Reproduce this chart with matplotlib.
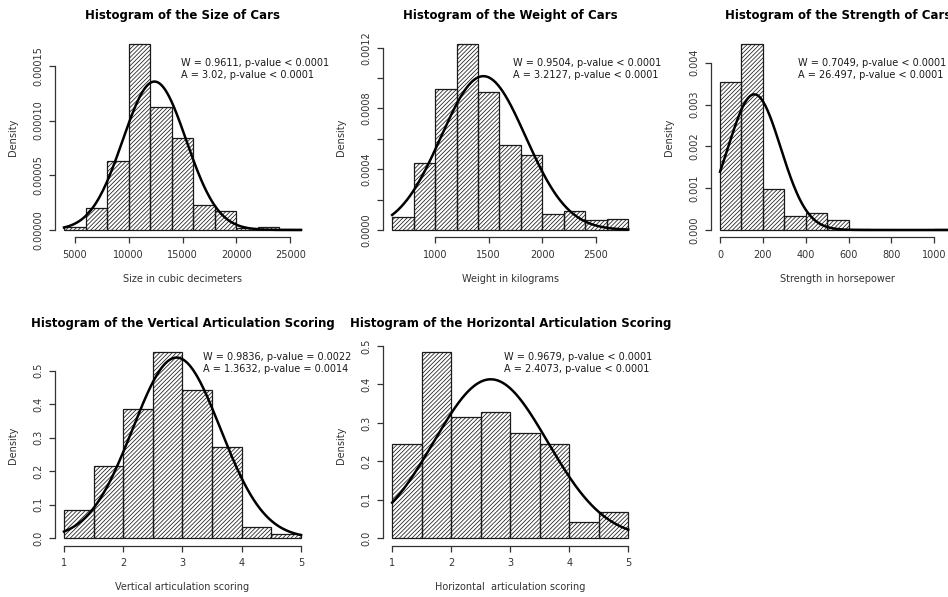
import numpy as np
import matplotlib
matplotlib.use("Agg")
import matplotlib.pyplot as plt
import matplotlib.transforms as mtransforms

plt.rcParams['hatch.linewidth'] = 0.55
plt.rcParams['font.family'] = ['DejaVu Sans']

# histogram breaks and densities
size_edges = [4000, 6000, 8000, 10000, 12000, 14000, 16000, 18000, 20000, 22000, 24000, 26000]
size_density = [0.000003, 0.00002, 0.0000634, 0.00017, 0.0001122, 0.0000845,
                0.0000229, 0.0000177, 0.000002, 0.000003, 0.000001]
size_norm = (12400, 2940)

weight_edges = [600, 800, 1000, 1200, 1400, 1600, 1800, 2000, 2200, 2400, 2600, 2800]
weight_density = [0.0000877, 0.000439, 0.000928, 0.001224, 0.00091, 0.000559,
                  0.000491, 0.000107, 0.000123, 0.000068, 0.00007]
weight_norm = (1450, 394)

strength_edges = [0, 100, 200, 300, 400, 500, 600, 700, 800, 900, 1000, 1100]
strength_density = [0.003546, 0.004446, 0.00098, 0.000343, 0.000398, 0.000247,
                    0.00003, 0, 0, 0, 0.00002]
strength_norm = (160, 123)

vert_edges = [1, 1.5, 2, 2.5, 3, 3.5, 4, 4.5, 5]
vert_density = [0.0845, 0.2167, 0.3857, 0.5547, 0.4423, 0.2734, 0.0348, 0.0119]
vert_norm = (2.9, 0.74)

horiz_edges = [1, 1.5, 2, 2.5, 3, 3.5, 4, 4.5, 5]
horiz_density = [0.2452, 0.4835, 0.3146, 0.3284, 0.273, 0.2452, 0.0425, 0.0693]
horiz_norm = (2.67, 0.965)

panels = [
    dict(edges=size_edges, dens=size_density, norm=size_norm,
         title="Histogram of the Size of Cars", xlabel="Size in cubic decimeters",
         xticks=[5000, 10000, 15000, 20000, 25000],
         yticks=[0, 0.00005, 0.0001, 0.00015], ylabels=["0.00000", "0.00005", "0.00010", "0.00015"],
         text=["W = 0.9611, p-value < 0.0001", "A = 3.02, p-value < 0.0001"], tx=14860,
         pos=[54.5, 36.6, 256, 200.8]),
    dict(edges=weight_edges, dens=weight_density, norm=weight_norm,
         title="Histogram of the Weight of Cars", xlabel="Weight in kilograms",
         xticks=[1000, 1500, 2000, 2500],
         yticks=[0, 0.0002, 0.0004, 0.0006, 0.0008, 0.001, 0.0012],
         ylabels=["0.0000", "", "0.0004", "", "0.0008", "", "0.0012"],
         text=["W = 0.9504, p-value < 0.0001", "A = 3.2127, p-value < 0.0001"], tx=1730,
         pos=[382.7, 36.6, 255, 200.8]),
    dict(edges=strength_edges, dens=strength_density, norm=strength_norm,
         title="Histogram of the Strength of Cars", xlabel="Strength in horsepower",
         xticks=[0, 200, 400, 600, 800, 1000],
         yticks=[0, 0.001, 0.002, 0.003, 0.004],
         ylabels=["0.000", "0.001", "0.002", "0.003", "0.004"],
         text=["W = 0.7049, p-value < 0.0001", "A = 26.497, p-value < 0.0001"], tx=365,
         pos=[710.6, 36.6, 254.6, 200.8]),
    dict(edges=vert_edges, dens=vert_density, norm=vert_norm,
         title="Histogram of the Vertical Articulation Scoring", xlabel="Vertical articulation scoring",
         xticks=[1, 2, 3, 4, 5],
         yticks=[0, 0.1, 0.2, 0.3, 0.4, 0.5],
         ylabels=["0.0", "0.1", "0.2", "0.3", "0.4", "0.5"],
         text=["W = 0.9836, p-value = 0.0022", "A = 1.3632, p-value = 0.0014"], tx=3.35,
         pos=[54.5, 344.9, 256, 200.8], ty=(0.941, 0.88)),
    dict(edges=horiz_edges, dens=horiz_density, norm=horiz_norm,
         title="Histogram of the Horizontal Articulation Scoring", xlabel="Horizontal  articulation scoring",
         xticks=[1, 2, 3, 4, 5],
         yticks=[0, 0.1, 0.2, 0.3, 0.4, 0.5],
         ylabels=["0.0", "0.1", "0.2", "0.3", "0.4", "0.5"],
         text=["W = 0.9679, p-value < 0.0001", "A = 2.4073, p-value < 0.0001"], tx=2.9,
         pos=[382.7, 344.9, 255, 200.8], ty=(0.941, 0.88)),
]

W, H = 948, 597
fig = plt.figure(figsize=(W / 100, H / 100), dpi=100)
ink = '#1a1a1a'

for p in panels:
    l, t, w, h = p['pos']
    ax = fig.add_axes([l / W, (H - t - h) / H, w / W, h / H])
    edges = np.array(p['edges'], dtype=float)
    dens = np.array(p['dens'])
    ax.bar(edges[:-1], dens, width=np.diff(edges), align='edge', fill=False,
           hatch='/' * 8, edgecolor=ink, linewidth=0.9)
    mu, sd = p['norm']
    xs = np.linspace(edges[0], edges[-1], 400)
    ax.plot(xs, np.exp(-0.5 * ((xs - mu) / sd) ** 2) / (sd * np.sqrt(2 * np.pi)),
            color='black', linewidth=1.8)

    span = edges[-1] - edges[0]
    ax.set_xlim(edges[0] - 0.04 * span, edges[-1] + 0.04 * span)
    ymax = dens.max()
    ax.set_ylim(-0.04 * ymax, 1.04 * ymax)

    for s in ['top', 'right']:
        ax.spines[s].set_visible(False)
    ax.spines['bottom'].set_bounds(p['xticks'][0], p['xticks'][-1])
    ax.spines['left'].set_bounds(p['yticks'][0], p['yticks'][-1])
    for s in ['bottom', 'left']:
        ax.spines[s].set_color('#333333')
        ax.spines[s].set_linewidth(0.9)

    ax.set_xticks(p['xticks'])
    ax.set_xticklabels([str(v) for v in p['xticks']])
    ax.set_yticks(p['yticks'])
    ax.set_yticklabels(p['ylabels'], rotation=90, va='center')
    ax.tick_params(length=4, width=0.9, color='#333333', labelsize=7, labelcolor='#333333')
    ax.tick_params(axis='x', pad=5)
    ax.tick_params(axis='y', pad=4)

    ax.set_xlabel(p['xlabel'], fontsize=7, color='#333333', labelpad=10)
    ax.set_ylabel("Density", fontsize=7, color='#333333', labelpad=11)
    ax.set_title(p['title'], fontsize=8.5, fontweight='bold', pad=13)

    trans = mtransforms.blended_transform_factory(ax.transData, ax.transAxes)
    ty = p.get('ty', (0.871, 0.809))
    for txt, yy in zip(p['text'], ty):
        ax.text(p['tx'], yy, txt, transform=trans, fontsize=7, color=ink,
                ha='left', va='center', clip_on=False)

fig.savefig("out.png", dpi=100)
